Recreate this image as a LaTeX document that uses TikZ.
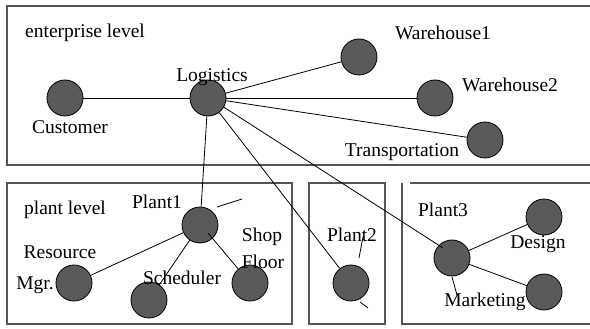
\documentclass[tikz,border=0pt]{standalone}
\usepackage{fontspec}
\setmainfont{Liberation Serif}
\definecolor{nodegray}{RGB}{90,90,90}
\definecolor{boxgray}{RGB}{85,85,85}
\tikzset{
  ent/.style={circle, draw=black, line width=0.8pt, fill=nodegray, minimum size=36pt, inner sep=0pt},
  lbl/.style={inner sep=0pt, font=\fontsize{19.5}{22}\selectfont},
  boxline/.style={draw=boxgray, line width=1.3pt},
  conn/.style={draw=black, line width=0.8pt}
}
\begin{document}
\begin{tikzpicture}[x=1pt,y=-1pt]
\useasboundingbox (0,0) rectangle (590,329);
% boxes
\draw[boxline] (590,6) -- (7,6) -- (7,165) -- (590,165);
\draw[boxline] (7,183) rectangle (292,324);
\draw[boxline] (309,183) rectangle (385,324);
\draw[boxline] (402,183) -- (402,324) -- (590,324);
\draw[boxline] (410,183) -- (590,183);
% nodes
\node[ent] (cust) at (65,98) {};
\node[ent] (log) at (208,98) {};
\node[ent] (wh1) at (359,57) {};
\node[ent] (wh2) at (435,98) {};
\node[ent] (trans) at (485,140) {};
\node[ent] (p1) at (200,225) {};
\node[ent] (res) at (74,283) {};
\node[ent] (sched) at (149,300) {};
\node[ent] (shop) at (250,283) {};
\node[ent] (p2) at (351,283) {};
\node[ent] (p3) at (452,258) {};
\node[ent] (des) at (544,217) {};
\node[ent] (mkt) at (544,292) {};
% free coordinates
\coordinate (p3in) at (443,248);
\coordinate (p1in) at (208,233);
\coordinate (s1a) at (217,207);
\coordinate (s1b) at (242,199);
\coordinate (s2a) at (363,237);
\coordinate (s2b) at (359,258);
\coordinate (s3a) at (360,302);
\coordinate (s3b) at (368,308);
\coordinate (s4a) at (452,277);
\coordinate (s4b) at (457,295);
% connectors
\draw[conn] (log) -- (cust);
\draw[conn] (log) -- (wh1);
\draw[conn] (log) -- (wh2);
\draw[conn] (log) -- (trans);
\draw[conn] (log) -- (p1);
\draw[conn] (log) -- (p2);
\draw[conn] (log.-30) -- (p3in);
\draw[conn] (p1) -- (res);
\draw[conn] (p1) -- (sched);
\draw[conn] (p1in) -- (shop);
\draw[conn] (s1a) -- (s1b);
\draw[conn] (s2a) -- (s2b);
\draw[conn] (s3a) -- (s3b);
\draw[conn] (p3) -- (des);
\draw[conn] (p3) -- (mkt);
\draw[conn] (s4a) -- (s4b);
% labels
\node[lbl] (tent) at (85,33) {enterprise level};
\node[lbl] (tlog) at (212,77) {Logistics};
\node[lbl] (tcust) at (70,127) {Customer};
\node[lbl] (twh1) at (443,33) {Warehouse1};
\node[lbl] (twh2) at (510,85) {Warehouse2};
\node[lbl] (ttrans) at (402,152) {Transportation};
\node[lbl] (tplant) at (65,210) {plant level};
\node[lbl] (tp1) at (157,202) {Plant1};
\node[lbl] (tres) at (60,252) {Resource};
\node[lbl] (tmgr) at (35,285) {Mgr.};
\node[lbl] (tsched) at (182,278) {Scheduler};
\node[lbl] (tshop) at (262,237) {Shop};
\node[lbl] (tfloor) at (263,262) {Floor};
\node[lbl] (tp2) at (352,235) {Plant2};
\node[lbl] (tp3) at (443,210) {Plant3};
\node[lbl] (tdes) at (538,244) {Design};
\node[lbl] (tmkt) at (485,302) {Marketing};
\end{tikzpicture}
\end{document}
